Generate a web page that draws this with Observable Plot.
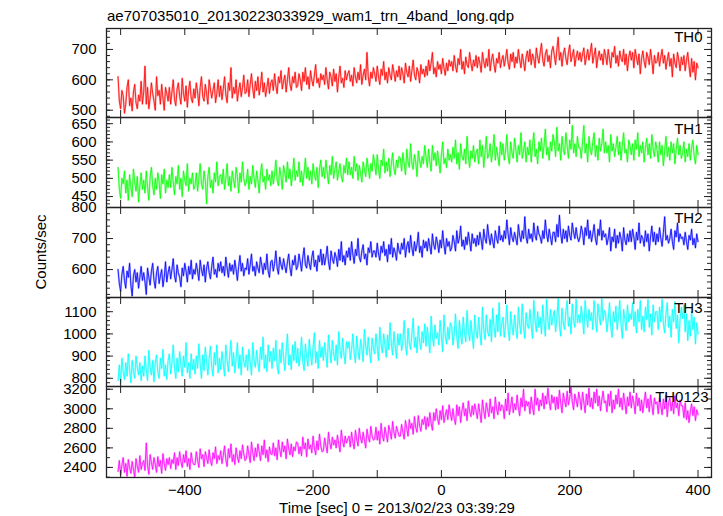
<!DOCTYPE html>
<html><head><meta charset="utf-8">
<script src="https://cdn.jsdelivr.net/npm/d3@7"></script>
<script src="https://cdn.jsdelivr.net/npm/@observablehq/plot@0.6"></script>
<style>
body{margin:0;background:#fff;font-family:"Liberation Sans",Arial,sans-serif;color:#000;}
#wrap{position:relative;width:723px;height:516px;overflow:hidden;}
#wrap svg{position:absolute;left:0;}
.txt{position:absolute;font-size:15px;line-height:15px;white-space:nowrap;}
</style></head><body><div id="wrap"></div>
<script>
// ---- data (counts/sec, 2 s bins starting at t = -504 s) ----
const tStart = -504, tStep = 2;
const th0 = [
610,530,505,565,548,490,520,575,600,515,540,498,560,585,525,505,550,530,595,520,
560,645,520,575,505,540,590,555,530,500,610,548,565,520,585,540,500,575,555,530,
575,520,560,600,535,515,570,590,545,520,605,555,530,580,510,565,595,540,525,570,
540,590,560,515,575,610,545,530,585,555,520,600,570,540,565,590,525,555,600,545,
580,535,570,610,550,525,590,565,640,540,575,555,600,530,565,590,545,575,615,555,
560,600,545,585,620,570,540,595,565,610,550,580,625,560,590,545,575,605,555,590,
600,565,620,580,555,610,590,630,570,595,615,560,600,640,585,565,610,590,625,575,
580,620,600,565,625,595,640,585,610,570,630,600,580,615,650,590,605,575,620,600,
615,585,640,600,570,625,610,580,635,595,620,560,610,645,590,605,575,630,600,620,
630,595,615,580,640,610,590,625,600,650,585,615,635,600,690,610,580,625,605,640,
620,595,645,610,585,635,615,660,600,625,590,640,615,600,650,625,595,630,610,645,
600,640,620,590,655,625,610,645,595,630,665,615,600,640,625,590,650,620,635,610,
645,615,665,630,655,690,620,640,610,660,635,650,620,670,640,615,655,630,665,645,
660,630,680,645,625,670,650,700,635,660,620,675,650,640,690,655,630,665,645,680,
640,675,655,625,690,660,640,670,645,700,630,665,685,650,625,670,655,690,640,665,
680,645,670,700,655,635,685,660,690,640,675,655,700,665,640,685,660,630,675,695,
660,700,650,685,670,640,705,675,655,690,720,665,645,685,700,660,680,640,695,710,
680,650,700,740,665,690,645,685,705,670,650,690,715,660,680,700,645,675,695,665,
690,660,685,705,650,675,700,665,690,720,655,680,705,640,675,695,665,685,650,700,
680,650,700,670,640,690,675,710,655,680,645,695,670,660,700,650,685,630,675,695,
665,690,640,700,675,650,685,620,670,695,660,640,690,675,650,700,665,620,680,655,
660,690,645,675,700,655,680,635,665,690,645,670,610,685,655,640,690,665,630,675,
650,680,630,665,690,645,610,670,625,660,600,655,640];
const th1 = [
530,470,445,500,485,520,460,495,440,510,475,450,525,490,465,505,435,480,515,470,
495,460,520,475,440,505,530,480,455,500,470,515,490,445,510,485,525,460,495,475,
510,475,530,490,455,505,485,535,470,500,450,520,495,480,540,465,500,485,515,470,
480,515,465,500,540,485,470,520,495,430,505,530,475,495,460,515,490,545,480,505,
510,485,525,470,500,540,480,505,465,520,495,475,530,505,460,515,490,545,500,480,
490,525,470,505,485,535,500,475,520,495,460,515,540,490,505,470,525,495,510,480,
520,485,510,550,495,480,530,505,470,535,515,490,545,500,525,480,510,555,495,520,
505,545,490,520,480,515,555,500,530,495,520,485,540,510,495,530,475,525,550,505,
530,500,550,515,485,535,510,560,500,525,545,495,520,540,505,490,535,515,555,510,
545,510,530,500,560,520,540,495,535,515,490,545,525,505,555,530,500,540,520,565,
540,510,565,525,500,550,535,580,515,545,520,555,505,540,570,525,510,550,530,560,
555,520,570,540,510,580,545,530,595,540,525,565,545,505,575,550,530,560,540,590,
560,530,580,545,520,590,550,570,535,575,545,515,565,600,540,555,530,580,550,565,
545,585,555,605,540,570,525,595,560,550,580,540,615,560,530,575,555,590,545,570,
580,540,605,560,590,530,570,615,555,565,595,545,575,620,550,585,560,535,600,565,
595,550,575,620,560,540,600,570,555,610,580,545,590,565,625,555,575,600,545,585,
565,605,545,590,625,560,580,540,600,575,610,555,590,635,565,585,550,600,575,620,
600,560,640,575,595,550,615,580,565,625,590,555,605,580,645,570,595,560,615,585,
585,555,600,645,570,595,545,615,580,565,600,625,560,590,550,610,575,595,635,570,
600,570,590,545,620,575,595,560,585,615,565,600,550,590,625,570,580,545,605,590,
565,595,550,605,580,625,560,590,570,600,545,585,610,565,595,555,620,580,560,600,
580,545,600,565,590,535,575,615,560,585,550,600,570,595,540,580,610,565,590,555,
570,600,545,580,560,595,550,585,605,560,540,590,565];
const th2 = [
600,555,530,585,610,565,540,595,575,620,550,515,580,600,560,590,540,575,610,565,
590,560,520,605,575,550,595,620,565,540,590,610,555,580,600,545,575,625,560,590,
610,570,600,635,580,560,615,590,575,545,605,580,620,595,560,610,585,630,570,600,
585,620,595,565,630,600,580,615,560,605,625,590,570,610,640,585,600,575,620,595,
625,590,610,580,640,605,575,620,595,615,585,630,600,565,610,645,595,620,580,605,
600,635,585,615,650,595,610,580,625,605,590,640,615,585,620,600,650,595,575,625,
630,595,620,660,605,585,640,615,600,635,610,590,625,650,605,580,630,615,645,600,
610,650,625,595,640,670,615,605,645,620,600,640,660,610,630,595,645,625,665,615,
650,615,640,675,625,600,660,635,620,655,640,610,665,630,690,625,645,615,660,640,
670,630,690,650,620,665,645,700,640,625,660,680,635,650,615,670,655,690,640,660,
660,640,685,650,630,675,655,690,645,665,625,680,650,700,640,670,655,630,685,660,
650,685,665,700,640,675,690,655,710,670,645,690,660,680,720,655,675,640,695,670,
690,660,700,675,650,715,680,665,705,685,655,695,670,725,680,650,700,675,690,660,
670,710,690,660,725,685,700,740,675,695,665,705,680,720,690,660,715,685,700,675,
710,680,720,695,665,730,700,685,745,705,680,715,690,670,725,700,685,740,695,710,
690,725,700,760,715,680,735,705,690,720,700,680,745,710,690,725,700,770,705,685,
730,700,715,690,750,710,695,740,715,705,685,725,700,760,715,690,730,705,680,720,
720,690,745,705,775,715,685,730,700,725,690,740,710,695,750,720,700,735,705,690,
705,740,720,680,735,710,760,700,725,690,715,745,700,680,730,710,760,695,725,705,
715,680,700,735,660,705,690,730,670,710,685,720,700,660,735,695,680,715,690,725,
690,730,705,665,720,695,750,685,710,700,675,725,690,715,660,705,740,690,720,680,
715,690,735,700,675,720,770,695,710,685,700,730,690,665,725,705,750,690,715,700,
705,680,720,690,665,710,695,730,680,700,670,715,690];
const th3 = [
790,860,775,890,830,795,870,810,910,840,780,880,830,800,900,850,815,870,790,855,
810,900,840,790,925,850,815,880,785,870,905,825,800,890,845,930,810,860,795,880,
910,820,870,950,845,800,890,830,920,860,810,900,850,960,825,870,800,910,840,885,
820,900,845,955,865,800,905,835,940,875,815,890,945,850,810,915,860,950,825,890,
840,920,865,810,950,880,830,900,970,855,915,825,890,960,845,905,815,940,875,850,
905,835,930,870,815,960,880,850,925,870,830,940,885,985,845,905,830,950,875,920,
845,935,880,970,855,820,930,870,960,895,835,920,1000,860,905,840,950,880,965,870,
935,855,900,985,875,835,955,895,855,975,910,860,940,1005,870,920,845,970,895,940,
880,960,905,850,995,925,870,970,910,880,950,860,1010,925,890,980,910,865,965,935,
965,885,930,1000,915,870,990,925,885,975,935,875,1020,945,905,985,920,870,980,935,
910,1000,940,880,1030,955,915,1000,950,895,995,930,1050,955,905,1010,945,890,1000,950,
1000,925,965,1060,950,905,1025,960,930,1000,1070,940,985,915,1035,965,930,1010,960,1045,
945,1030,975,915,1080,990,945,1040,980,1005,950,1060,990,920,1085,995,955,1030,975,1050,
1035,950,1000,1090,985,935,1060,995,955,1075,1005,965,1105,1010,970,1060,995,935,1085,1010,
980,1075,1005,950,1120,1020,975,1085,1010,990,1065,965,1115,1030,985,1085,1010,1140,990,1045,
1075,985,1040,1130,1020,970,1100,1035,995,1085,1025,980,1120,1045,1000,1135,1035,980,1095,1040,
1025,1110,1040,980,1150,1060,1010,1100,1030,1075,1000,1130,1050,990,1155,1060,1020,1110,1040,1080,
1105,1010,1070,1160,1040,990,1115,1050,1020,1100,1150,1035,1075,1000,1135,1060,1030,1155,1050,1085,
1050,1125,1070,1000,1150,1085,1030,1110,1060,1095,1020,1150,1070,1010,1135,1080,1040,1160,1060,1105,
1090,1010,1065,1140,1035,985,1100,1055,1125,1020,1075,1150,1045,980,1110,1065,1015,1130,1055,1090,
1065,1140,1035,1100,1005,1110,1055,1150,1020,1080,1010,1120,1065,1155,1030,1090,995,1130,1055,1100,
1100,1020,1120,1055,1155,1045,1005,1090,1140,1030,1080,985,1110,1055,1145,1025,1085,960,1065,1120,
1070,1130,1010,1090,970,1060,990,1100,1020,1075,955,1050,1000];
const th0123 = [
2360,2470,2320,2420,2500,2350,2440,2310,2480,2400,2340,2460,2380,2300,2490,2410,2350,2520,2380,2440,
2470,2370,2650,2420,2330,2530,2450,2380,2500,2430,2350,2510,2410,2470,2340,2540,2440,2370,2490,2430,
2500,2390,2480,2440,2550,2380,2500,2420,2560,2460,2400,2530,2450,2570,2410,2490,2380,2550,2460,2430,
2430,2560,2470,2400,2590,2490,2530,2410,2560,2500,2440,2580,2470,2420,2550,2490,2610,2440,2520,2480,
2570,2440,2520,2620,2480,2410,2590,2500,2640,2460,2530,2430,2600,2510,2450,2570,2490,2630,2540,2470,
2490,2620,2530,2450,2660,2550,2470,2600,2510,2640,2560,2470,2620,2530,2680,2500,2580,2460,2610,2540,
2530,2650,2520,2600,2480,2680,2580,2510,2660,2560,2620,2490,2690,2590,2530,2640,2510,2610,2570,2660,
2650,2540,2610,2520,2710,2590,2650,2510,2690,2590,2630,2550,2720,2600,2530,2670,2580,2740,2620,2560,
2570,2700,2620,2550,2760,2650,2590,2710,2630,2680,2600,2730,2640,2560,2780,2670,2610,2720,2650,2690,
2720,2610,2760,2660,2590,2780,2690,2620,2800,2700,2650,2760,2680,2600,2790,2710,2660,2820,2720,2680,
2690,2810,2680,2770,2640,2850,2720,2670,2810,2740,2660,2830,2770,2690,2870,2760,2700,2820,2770,2720,
2720,2840,2760,2690,2880,2800,2720,2890,2800,2850,2740,2920,2810,2760,2930,2830,2770,2890,2840,2920,
2790,2910,2820,2960,2850,2780,2960,2880,3000,2900,2840,2980,2890,3030,2860,2930,2990,2890,3040,2950,
2880,3000,2900,2840,3040,2930,3020,2860,2980,3060,2930,3000,2880,3080,2970,2920,3030,2940,3050,2980,
2900,3050,2960,2860,3090,2980,2900,3060,2990,2920,3100,2960,3020,2900,3120,3000,2940,3070,2980,3040,
3020,2900,3100,2980,3160,2940,3030,3120,2960,3050,2990,3140,3010,2930,3110,3020,3200,2980,3080,3030,
3070,2950,3120,3020,2940,3200,3040,3110,2980,3090,3030,3160,3000,3130,3050,3210,3070,2990,3140,3060,
3120,2990,3120,3000,3190,3060,2960,3160,3080,3020,3180,3040,3110,3220,3070,2990,3150,3090,3020,3170,
3100,2990,3170,3070,2960,3150,3040,3210,3020,3110,3000,3170,3060,3200,3030,3130,2980,3090,3180,3060,
3080,2970,3150,3030,3180,2960,3090,3000,3140,3050,3200,3020,3110,2990,3160,3060,2950,3120,3030,3170,
3010,3130,3060,2950,3160,3030,3110,2980,3090,2960,3070,3170,3010,3100,2970,3140,3040,2940,3110,3050,
3070,2950,3110,3030,2940,3100,3000,3140,2920,3060,3110,2980,3070,2950,3130,3010,3060,2930,3090,3030,
3030,2910,3060,2890,2980,2860,2970,3050,2930,3020,2880,2990,2940];

const bandNames = ["TH0","TH1","TH2","TH3","TH0123"];
const th0Ticks = [500,600,700];
const th1Ticks = [450,500,550,600,650];
const th2Ticks = [600,700,800];
const th3Ticks = [800,900,1000,1100];
const th0123Ticks = [2400,2600,2800,3000,3200];
const xTickLabels = [-400,-200,0,200,400];
const xMinorTicks = [-500,-400,-300,-200,-100,0,100,200,300,400];
const titleText = "ae707035010_20130223033929_wam1_trn_4band_long.qdp";
const xTitle = "Time [sec] 0 = 2013/02/23 03:39:29";
const yTitle = "Counts/sec";

// ---- layout / styles ----
const W = 723, ML = 106, MR = 12;
const frameW = W - ML - MR;
const edges = [28, 117, 207, 297, 386, 477];
const series = [th0, th1, th2, th3, th0123];
const colors = ["#ff0000", "#00ff00", "#0000ff", "#00ffff", "#ff00ff"];
const domains = [[476, 769], [420, 667], [510, 800], [763, 1164], [2297, 3228]];
const majors = [th0Ticks, th1Ticks, th2Ticks, th3Ticks, th0123Ticks];
const minorSteps = [20, 10, 20, 20, 100];
const labelDx = [-9, -9, -9, -9, -3];
const labelDy = [3, 6, 5, 5, 5];

const times = series[0].map((_, i) => tStart + i * tStep);
const wrap = document.getElementById("wrap");

series.forEach((vals, p) => {
  const data = vals.map((v, i) => ({t: times[i], v}));
  const top = edges[p], bot = edges[p + 1];
  const last = p === series.length - 1;
  const mt = 20, mb = last ? 30 : 20;
  const H = bot - top;
  const [lo, hi] = domains[p];
  const step = minorSteps[p];
  const minors = d3.range(Math.ceil(lo / step) * step, hi + 0.001, step);
  const tickCol = "#222";
  const marks = [
    Plot.lineY(data, {x: "t", y: "v", stroke: colors[p], strokeWidth: 2, strokeOpacity: 0.3, clip: true}),
    Plot.lineY(data, {x: "t", y: "v", stroke: colors[p], strokeWidth: 0.8, clip: true}),
    Plot.ruleY(minors, {insetRight: frameW - 4, stroke: tickCol, strokeWidth: 1}),
    Plot.ruleY(minors, {insetLeft: frameW - 4, stroke: tickCol, strokeWidth: 1}),
    Plot.ruleY(majors[p], {insetRight: frameW - 7, stroke: tickCol, strokeWidth: 1}),
    Plot.ruleY(majors[p], {insetLeft: frameW - 7, stroke: tickCol, strokeWidth: 1}),
    Plot.ruleX(xMinorTicks, {insetBottom: H - 7, stroke: tickCol, strokeWidth: 1}),
    Plot.ruleX(xMinorTicks, {insetTop: H - 7, stroke: tickCol, strokeWidth: 1}),
    Plot.frame({stroke: tickCol, strokeWidth: 1.3}),
    Plot.axisY(majors[p], {tickSize: 0, tickPadding: 10, tickFormat: d3.format("d"), label: null, fill: "#000"}),
    Plot.text([bandNames[p]], {frameAnchor: "top-right", textAnchor: "end", lineAnchor: "top", dx: labelDx[p], dy: labelDy[p], fontSize: 15, fill: "#000"})
  ];
  if (last) marks.push(Plot.axisX(xTickLabels, {tickSize: 0, tickPadding: 7, label: null, fill: "#000"}));
  const svg = Plot.plot({
    width: W, height: H + mt + mb,
    marginLeft: ML, marginRight: MR, marginTop: mt, marginBottom: mb,
    style: {background: "transparent", overflow: "visible", fontSize: "15px", fontFamily: "'Liberation Sans', Arial, sans-serif", color: "#000"},
    x: {domain: [-522, 421], axis: last ? undefined : null},
    y: {domain: domains[p]},
    marks
  });
  svg.style.top = (top - mt) + "px";
  wrap.appendChild(svg);
});

function addText(str, css) {
  const d = document.createElement("div");
  d.className = "txt";
  d.textContent = str;
  Object.assign(d.style, css);
  wrap.appendChild(d);
}
addText(titleText, {left: "107px", top: "8px"});
addText(yTitle, {left: "40px", top: "252px", transform: "translate(-50%,-50%) rotate(-90deg)"});
addText(xTitle, {left: "397px", top: "507px", transform: "translate(-50%,-50%)"});
</script></body></html>
